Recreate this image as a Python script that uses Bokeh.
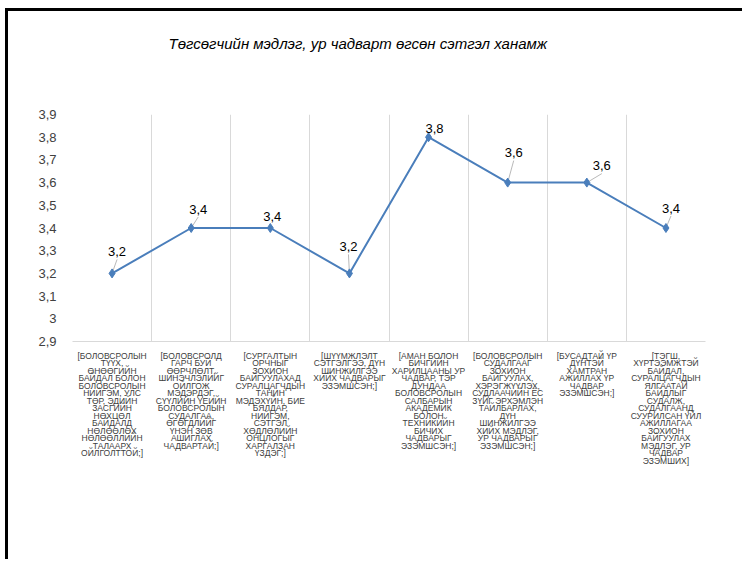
from bokeh.plotting import figure
from bokeh.models import (ColumnDataSource, FixedTicker, CustomJSTickFormatter, Range1d)
from bokeh.embed import file_html
from bokeh.resources import INLINE
from bokeh.core.properties import value

title_text = "Төгсөгчийн мэдлэг, ур чадварт өгсөн сэтгэл ханамж"

categories = [
    "[БОЛОВСРОЛЫН\nТҮҮХ,\nӨНӨӨГИЙН\nБАЙДАЛ БОЛОН\nБОЛОВСРОЛЫН\nНИЙГЭМ, УЛС\nТӨР, ЭДИЙН\nЗАСГИЙН\nНӨХЦӨЛ\nБАЙДАЛД\nНӨЛӨӨЛӨХ\nНӨЛӨӨЛЛИЙН\nТАЛААРХ\nОЙЛГОЛТТОЙ;]",
    "[БОЛОВСРОЛД\nГАРЧ БУЙ\nӨӨРЧЛӨЛТ,\nШИНЭЧЛЭЛИЙГ\nОЙЛГОЖ\nМЭДЭРДЭГ,\nСҮҮЛИЙН ҮЕИЙН\nБОЛОВСРОЛЫН\nСУДАЛГАА,\nӨГӨГДЛИЙГ\nҮНЭН ЗӨВ\nАШИГЛАХ\nЧАДВАРТАЙ;]",
    "[СУРГАЛТЫН\nОРЧНЫГ\nЗОХИОН\nБАЙГУУЛАХАД\nСУРАЛЦАГЧДЫН\nТАНИН\nМЭДЭХҮЙН, БИЕ\nБЯЛДАР,\nНИЙГЭМ,\nСЭТГЭЛ\nХӨДЛӨЛИЙН\nОНЦЛОГЫГ\nХАРГАЛЗАН\nҮЗДЭГ;]",
    "[ШҮҮМЖЛЭЛТ\nСЭТГЭЛГЭЭ, ДҮН\nШИНЖИЛГЭЭ\nХИЙХ ЧАДВАРЫГ\nЭЗЭМШСЭН;]",
    "[АМАН БОЛОН\nБИЧГИЙН\nХАРИЛЦААНЫ УР\nЧАДВАР, ТЭР\nДУНДАА\nБОЛОВСРОЛЫН\nСАЛБАРЫН\nАКАДЕМИК\nБОЛОН\nТЕХНИКИЙН\nБИЧИХ\nЧАДВАРЫГ\nЭЗЭМШСЭН;]",
    "[БОЛОВСРОЛЫН\nСУДАЛГААГ\nЗОХИОН\nБАЙГУУЛАХ,\nХЭРЭГЖҮҮЛЭХ,\nСУДЛААЧИЙН ЁС\nЗҮЙГ ЭРХЭМЛЭН\nТАЙЛБАРЛАХ,\nДҮН\nШИНЖИЛГЭЭ\nХИЙХ МЭДЛЭГ,\nУР ЧАДВАРЫГ\nЭЗЭМШСЭН;]",
    "[БУСАДТАЙ ҮР\nДҮНТЭЙ\nХАМТРАН\nАЖИЛЛАХ ҮР\nЧАДВАР\nЭЗЭМШСЭН;]",
    "[ТЭГШ,\nХҮРТЭЭМЖТЭЙ\nБАЙДАЛ,\nСУРАЛЦАГЧДЫН\nЯЛГААТАЙ\nБАЙДЛЫГ\nСУДАЛЖ,\nСУДАЛГААНД\nСУУРИЛСАН ҮЙЛ\nАЖИЛЛАГАА\nЗОХИОН\nБАЙГУУЛАХ\nМЭДЛЭГ, УР\nЧАДВАР\nЭЗЭМШИХ]",
]
values = [3.2, 3.4, 3.4, 3.2, 3.8, 3.6, 3.6, 3.4]
value_labels = ["3,2", "3,4", "3,4", "3,2", "3,8", "3,6", "3,6", "3,4"]
y_ticks = [2.9, 3.0, 3.1, 3.2, 3.3, 3.4, 3.5, 3.6, 3.7, 3.8, 3.9]
y_min, y_max = 2.9, 3.9

# layout (pixels)
W, H = 737, 551
ML, MR, MT, MB = 64, 40, 103, 221
frame_w = W - ML - MR
frame_h = H - MT - MB
# data-label offsets from their point, in px (right, up)
lab_dx = [5, 7, 2, -1, 6, 6, 15, 5]
lab_dy = [22, 19, 12, 27, 9, 30, 17, 20]

n = len(categories)
xs = [i + 0.5 for i in range(n)]
xpp = n / frame_w
ypp = (y_max - y_min) / frame_h

p = figure(width=W, height=H, output_backend="svg", toolbar_location=None,
           x_range=Range1d(0, n), y_range=Range1d(y_min, y_max),
           min_border_left=ML, min_border_right=MR, min_border_top=MT, min_border_bottom=MB,
           styles={"border-top": "3px solid black", "border-left": "3px solid black",
                   "margin-left": "5px", "margin-top": "8px"})
p.outline_line_color = None
p.background_fill_color = "white"
p.border_fill_color = "white"

# title (blank lines below it lift it well above the frame)
p.title.text = title_text + "\n \n \n "
p.title.align = "left"
p.title.offset = 96
p.title.standoff = 2
p.title.vertical_align = "bottom"
p.title.text_font = "Liberation Sans"
p.title.text_font_style = "italic"
p.title.text_font_size = "15px"
p.title.text_line_height = 1.2
p.title.text_color = "#000000"

# grids
p.ygrid.grid_line_color = None
p.xgrid.ticker = FixedTicker(ticks=list(range(n + 1)))
p.xgrid.grid_line_color = "#D9D9D9"
p.xgrid.grid_line_width = 1

# x axis
p.xaxis.ticker = FixedTicker(ticks=xs)
p.xaxis.formatter = CustomJSTickFormatter(args=dict(labels=categories),
                                          code="return labels[Math.floor(tick)];")
p.xaxis.axis_line_color = "#D9D9D9"
p.xaxis.major_tick_line_color = None
p.xaxis.minor_tick_line_color = None
p.xaxis.major_label_text_font = "Liberation Sans"
p.xaxis.major_label_text_font_size = "8.5px"
p.xaxis.major_label_text_line_height = 0.75
p.xaxis.major_label_text_color = "#404040"
p.xaxis.major_label_text_align = "center"
p.xaxis.major_label_standoff = 3

# y axis
p.yaxis.ticker = FixedTicker(ticks=y_ticks)
p.yaxis.formatter = CustomJSTickFormatter(
    code="return (Math.round(tick*10)/10).toString().replace('.', ',');")
p.yaxis.axis_line_color = None
p.yaxis.major_tick_line_color = None
p.yaxis.minor_tick_line_color = None
p.yaxis.major_label_text_font = "Liberation Sans"
p.yaxis.major_label_text_font_size = "13px"
p.yaxis.major_label_text_color = "#404040"
p.yaxis.major_label_standoff = 10

# leader lines
lx0, ly0, lx1, ly1 = [], [], [], []
for x, v, dx, dy in zip(xs, values, lab_dx, lab_dy):
    if dy >= 17:
        lx0.append(x)
        ly0.append(v)
        lx1.append(x + dx * xpp)
        ly1.append(v + (dy - 8) * ypp)
p.segment(lx0, ly0, lx1, ly1, line_color="#A6A6A6", line_width=0.8)

src = ColumnDataSource(dict(x=xs, y=values, t=value_labels,
                            xo=lab_dx, yo=[-d for d in lab_dy]))
p.line("x", "y", source=src, line_color="#4A7EBB", line_width=2)
p.scatter("x", "y", source=src, marker="diamond", size=9, fill_color="#4A7EBB",
          line_color="#4A7EBB")
p.text("x", "y", text="t", source=src, x_offset="xo", y_offset="yo",
       text_align="center", text_baseline="middle", text_font=value("Liberation Sans"),
       text_font_size="13px", text_color="#000000")

open("out.html", "w").write(file_html(p, INLINE))
